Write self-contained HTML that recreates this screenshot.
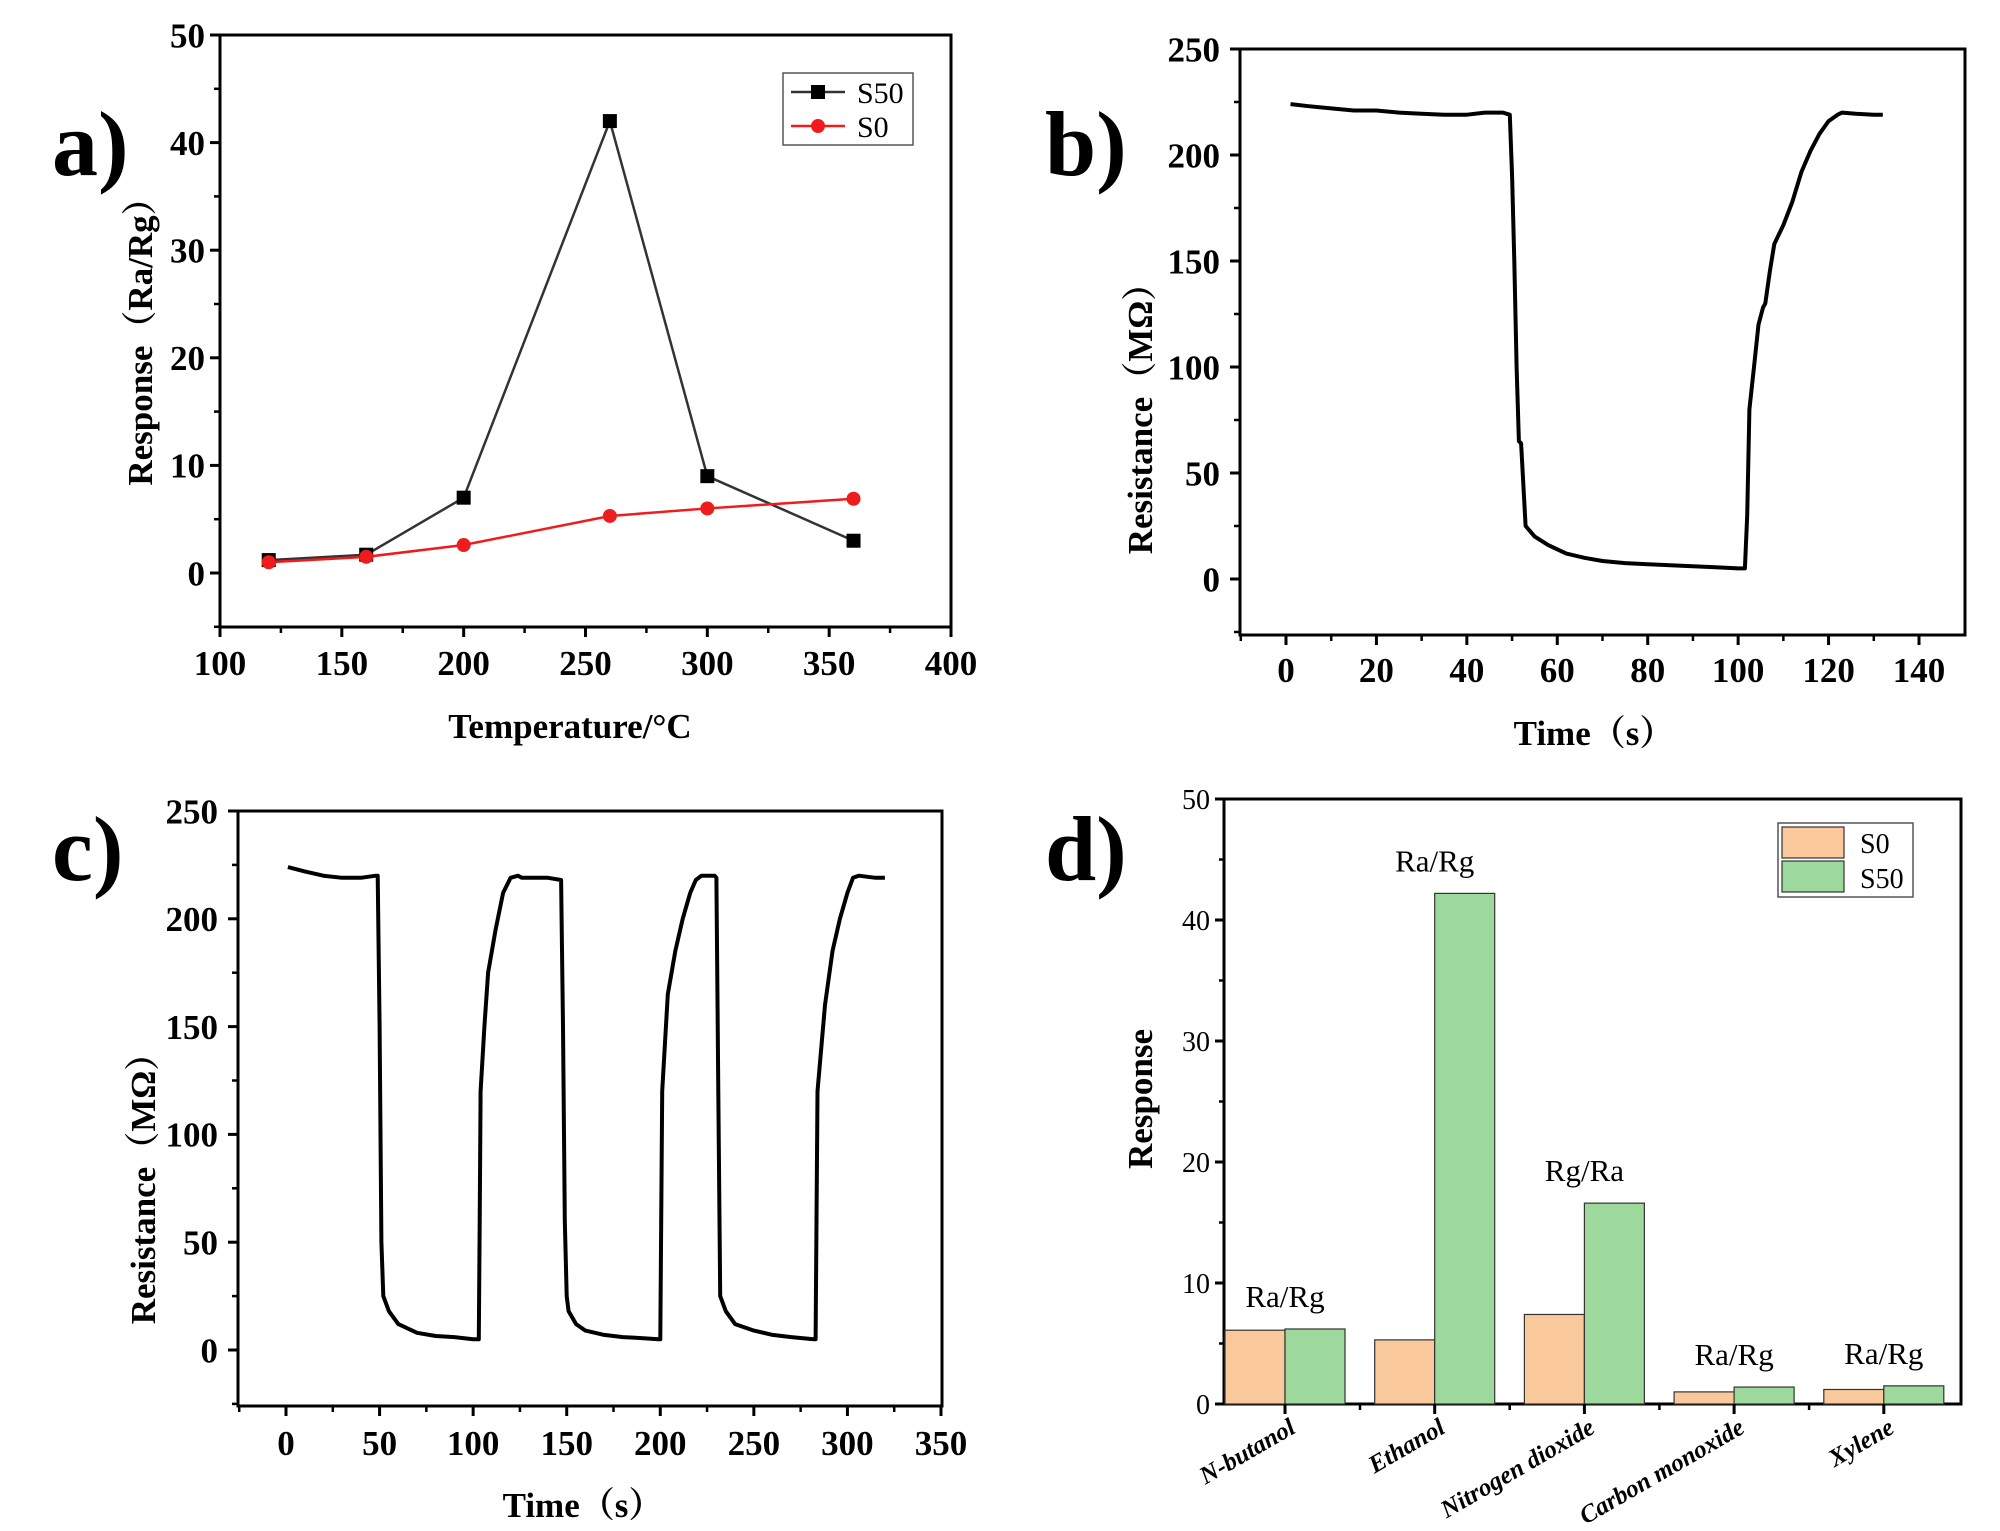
<!DOCTYPE html>
<html><head><meta charset="utf-8"><style>
html,body{margin:0;padding:0;background:#fff;}
svg{display:block;}
text{font-family:"Liberation Serif","Noto Serif CJK SC",serif;}
</style></head><body>
<svg id="fig" width="2000" height="1531" viewBox="0 0 2000 1531" xmlns="http://www.w3.org/2000/svg"></svg>
<script>
// Panel a data
const aTemps = [120,160,200,260,300,360];
const aS50 = [1.2,1.7,7.0,42.0,9.0,3.0];
const aS0 = [1.0,1.5,2.6,5.3,6.0,6.9];
const aXTicks = [100,150,200,250,300,350,400];
const aYTicks = [0,10,20,30,40,50];
// Panel b data
const bTime = [1,5,10,15,20,25,30,35,40,44,48,49.5,50,50.5,51,51.5,52,53,55,58,62,66,70,75,80,85,90,95,100,101.5,102,102.5,103.5,104.5,105.5,106,107,108,110,112,114,116,118,120,122,123,126,130,132];
const bRes = [224,223,222,221,221,220,219.5,219,219,220,220,219,190,150,100,65,64,25,20,16,12,10,8.5,7.5,7,6.5,6,5.5,5,5,30,80,100,120,128,130,145,158,167,178,192,202,210,216,219,220,219.5,219,219];
const bXTicks = [0,20,40,60,80,100,120,140];
const bYTicks = [0,50,100,150,200,250];
// Panel c data
const cTime = [1,10,20,30,40,48,49,50,51,52,55,60,70,80,90,100,103,103.5,104,106,108,112,116,120,124,126,130,140,147,148,149,150,151,155,160,170,180,190,199,200,200.5,201,204,208,212,216,219,222,226,229,230,231,232,235,240,250,260,270,282,283,283.5,284,288,292,296,300,303,306,315,320];
const cRes = [224,222,220,219,219,220,220,150,50,25,18,12,8,6.5,6,5,5,60,120,150,175,195,212,219,220,219,219,219,218,150,60,25,18,12,9,7,6,5.5,5,5,60,120,165,185,200,212,218,220,220,220,219,120,25,18,12,9,7,6,5,5,60,120,160,185,200,212,219,220,219,219];
const cXTicks = [0,50,100,150,200,250,300,350];
const cYTicks = [0,50,100,150,200,250];
// Panel d data
const dCats = ["N-butanol","Ethanol","Nitrogen dioxide","Carbon monoxide","Xylene"];
const dS0 = [6.1,5.3,7.4,1.0,1.2];
const dS50 = [6.2,42.2,16.6,1.4,1.5];
const dAnnot = ["Ra/Rg","Ra/Rg","Rg/Ra","Ra/Rg","Ra/Rg"];
const dYTicks = [0,10,20,30,40,50];

const NS="http://www.w3.org/2000/svg";
const svg=document.getElementById('fig');
function mk(tag,attrs,parent,txt){const e=document.createElementNS(NS,tag);for(const k in attrs)e.setAttribute(k,attrs[k]);if(txt!==undefined)e.textContent=txt;(parent||svg).appendChild(e);return e;}
function lin(d0,d1,r0,r1){return v=>r0+(v-d0)*(r1-r0)/(d1-d0);}

function frame(g,L,T,R,B){
  const r=mk('rect',{x:L,y:T,width:R-L,height:B-T,fill:'none',stroke:'#000','stroke-width':3},g);
  
  
}
function xTicks(g,ticks,x,B,ly,fs,bold,minor){
  ticks.forEach((t,i)=>{
    mk('line',{x1:x(t),x2:x(t),y1:B,y2:B+10,stroke:'#000','stroke-width':3},g);
    const tx=mk('text',{x:x(t),y:ly,'text-anchor':'middle','font-size':fs,'font-weight':bold?'bold':'normal'},g,String(t));
    
    
    if(minor&&i<ticks.length-1){const m=(t+ticks[i+1])/2;mk('line',{x1:x(m),x2:x(m),y1:B,y2:B+6,stroke:'#000','stroke-width':2.5},g);}
  });
}
function yTicks(g,ticks,y,L,lx,fs,bold,minor){
  ticks.forEach((t,i)=>{
    mk('line',{x1:L,x2:L-10,y1:y(t),y2:y(t),stroke:'#000','stroke-width':3},g);
    const tx=mk('text',{x:lx,y:y(t)+fs*0.35,'text-anchor':'end','font-size':fs,'font-weight':bold?'bold':'normal'},g,String(t));
    
    
    if(minor&&i<ticks.length-1){const m=(t+ticks[i+1])/2;mk('line',{x1:L,x2:L-6,y1:y(m),y2:y(m),stroke:'#000','stroke-width':2.5},g);}
  });
}
function label(g,txt,x,y,fs,name,rot){
  const t=mk('text',{x:x,y:y,'text-anchor':'middle','font-size':fs,'font-weight':'bold'},g,txt);
  if(rot)t.setAttribute('transform','rotate(-90 '+x+' '+y+')');
  
  
}
function panelLetter(g,txt,x,y){
  const t=mk('text',{x:x,y:y,'font-size':92,'font-weight':'bold'},g,txt);
  
  
}

// ---------- Panel a ----------
(function(){
  const g=mk('g',{});
  
  
  const L=220,R=951,T=35,B=627;
  const x=lin(100,400,L,R), y=lin(0,50,573,35);
  frame(g,L,T,R,B);
  xTicks(g,aXTicks,x,B,675,35,true,true);
  yTicks(g,aYTicks,y,L,205,35,true,true);
  mk('line',{x1:L,x2:L-6,y1:y(-5),y2:y(-5),stroke:'#000','stroke-width':2.5},g);
  label(g,'Temperature/°C',570,738,35,'x-axis-title');
  label(g,'Response（Ra/Rg）',152,333,35,'y-axis-title',true);
  panelLetter(g,'a)',52,175);
  const p1=mk('polyline',{points:aTemps.map((t,i)=>x(t)+','+y(aS50[i])).join(' '),fill:'none',stroke:'#333','stroke-width':2.5},g);
  
  
  const p2=mk('polyline',{points:aTemps.map((t,i)=>x(t)+','+y(aS0[i])).join(' '),fill:'none',stroke:'#ee1c1c','stroke-width':2.5},g);
  
  
  aTemps.forEach((t,i)=>{
    const s=mk('rect',{x:x(t)-7,y:y(aS50[i])-7,width:14,height:14,fill:'#000'},g);
    
    
    const c=mk('circle',{cx:x(t),cy:y(aS0[i]),r:7,fill:'#ee1c1c'},g);
    
    
  });
  const lg=mk('g',{},g);
  
  
  mk('rect',{x:783,y:73,width:130,height:72,fill:'#fff',stroke:'#555','stroke-width':1.5},lg);
  mk('line',{x1:791,x2:845,y1:92,y2:92,stroke:'#333','stroke-width':2.5},lg);
  mk('rect',{x:811,y:85,width:14,height:14,fill:'#000'},lg);
  mk('text',{x:857,y:103,'font-size':30},lg,'S50');
  mk('line',{x1:791,x2:845,y1:126,y2:126,stroke:'#ee1c1c','stroke-width':2.5},lg);
  mk('circle',{cx:818,cy:126,r:7,fill:'#ee1c1c'},lg);
  mk('text',{x:857,y:137,'font-size':30},lg,'S0');
})();

// ---------- Resistance panels ----------
function resPanel(name,letter,lx,ly,L,R,T,B,xd,yd,y0,xt,yt,times,vals,titleX,titleY,ytX,ytY){
  const g=mk('g',{});
  
  
  const x=lin(xd[0],xd[1],xd[2],xd[3]), y=lin(0,250,y0,T);
  frame(g,L,T,R,B);
  xTicks(g,xt,x,B,xt===bXTicks?682:1455,35,true,true);
  yTicks(g,yt,y,L,L-20,35,true,true);
  mk('line',{x1:L,x2:L-6,y1:y(-25),y2:y(-25),stroke:'#000','stroke-width':2.5},g);
  const mm=xt[0]-(xt[1]-xt[0])/2; if(x(mm)>L) mk('line',{x1:x(mm),x2:x(mm),y1:B,y2:B+6,stroke:'#000','stroke-width':2.5},g);
  label(g,'Time（s）',titleX,titleY,35,'x-axis-title');
  label(g,'Resistance（MΩ）',ytX,ytY,35,'y-axis-title',true);
  panelLetter(g,letter,lx,ly);
  const p=mk('polyline',{points:times.map((t,i)=>x(t).toFixed(1)+','+y(vals[i]).toFixed(1)).join(' '),fill:'none',stroke:'#000','stroke-width':4,'stroke-linejoin':'round'},g);
  
  
}
resPanel('panel-b-chart','b)',1045,175,1240,1965,49,635,[0,140,1286,1919],null,579,bXTicks,bYTicks,bTime,bRes,1594,745,1152,410);
resPanel('panel-c-chart','c)',52,880,238,942,811,1406,[0,350,286,941],null,1350,cXTicks,cYTicks,cTime,cRes,583,1517,155,1180);

// ---------- Panel d ----------
(function(){
  const g=mk('g',{});
  
  
  const L=1224,R=1961,T=799,B=1404;
  const y=lin(0,50,B,T);
  const cx=i=>1285+i*149.7;
  const bw=60;
  frame(g,L,T,R,B);
  dYTicks.forEach((t,i)=>{
    mk('line',{x1:L,x2:L-9,y1:y(t),y2:y(t),stroke:'#000','stroke-width':3},g);
    const tx=mk('text',{x:L-14,y:y(t)+10,'text-anchor':'end','font-size':28},g,String(t));
    
    
    if(i<dYTicks.length-1){const m=t+5;mk('line',{x1:L,x2:L-5,y1:y(m),y2:y(m),stroke:'#000','stroke-width':2.5},g);}
  });
  dCats.forEach((c,i)=>{
    const b0=mk('rect',{x:cx(i)-bw,y:y(dS0[i]),width:bw,height:B-y(dS0[i]),fill:'#f9c89b',stroke:'#333','stroke-width':1.2},g);
    
    
    const b1=mk('rect',{x:cx(i),y:y(dS50[i]),width:bw,height:B-y(dS50[i]),fill:'#9dd89c',stroke:'#333','stroke-width':1.2},g);
    
    
    mk('line',{x1:cx(i),x2:cx(i),y1:B,y2:B+10,stroke:'#000','stroke-width':3},g);
    if(i<dCats.length-1)mk('line',{x1:cx(i)+75,x2:cx(i)+75,y1:B,y2:B+6,stroke:'#000','stroke-width':2.5},g);
    const ax=cx(i)+12, ay=B+28;
    const lt=mk('text',{x:ax,y:ay,'text-anchor':'end','font-size':25,'font-weight':'bold','font-style':'italic',transform:'rotate(-30 '+ax+' '+ay+')'},g,c);
    
    
    const top=Math.max(dS0[i],dS50[i]);
    const an=mk('text',{x:cx(i),y:y(top)-22,'text-anchor':'middle','font-size':31},g,dAnnot[i]);
    
    
  });
  mk('line',{x1:L-9,x2:L,y1:B,y2:B,stroke:'#000','stroke-width':3},g);
  label(g,'Response',1152,1099,35,'y-axis-title',true);
  panelLetter(g,'d)',1045,880);
  const lg=mk('g',{},g);
  
  
  mk('rect',{x:1778,y:823,width:135,height:74,fill:'#fff',stroke:'#555','stroke-width':1.5},lg);
  mk('rect',{x:1782,y:827,width:62,height:31,fill:'#f9c89b',stroke:'#333','stroke-width':1.2},lg);
  mk('rect',{x:1782,y:861,width:62,height:31,fill:'#9dd89c',stroke:'#333','stroke-width':1.2},lg);
  mk('text',{x:1860,y:853,'font-size':28},lg,'S0');
  mk('text',{x:1860,y:888,'font-size':28},lg,'S50');
})();
</script>
</body></html>
